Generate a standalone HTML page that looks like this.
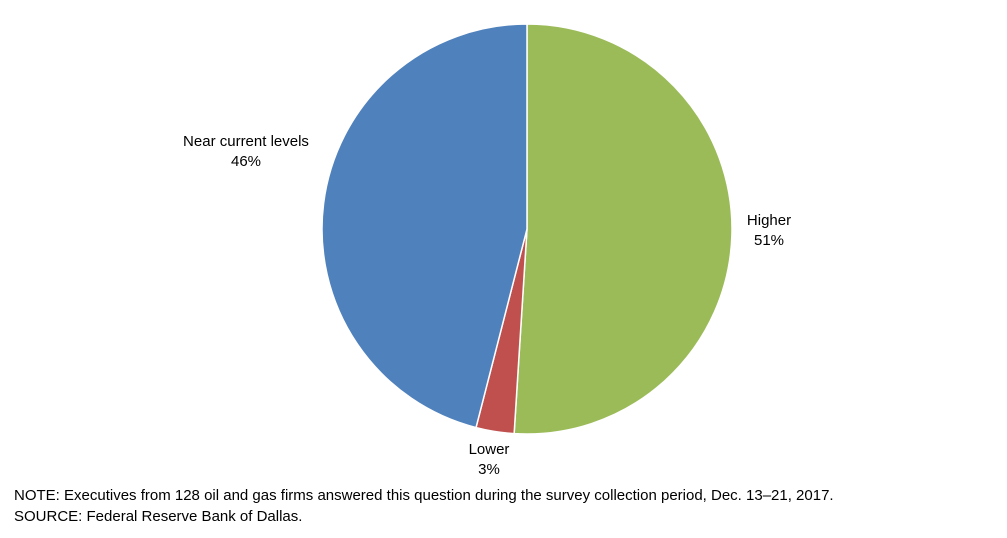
<!DOCTYPE html>
<html>
<head>
<meta charset="utf-8">
<style>
  body { margin: 0; background: #fff; }
  svg { display: block; font-family: "Liberation Sans", Arial, sans-serif; }
</style>
</head>
<body>
<svg id="chart" width="1007" height="538" viewBox="0 0 1007 538">
  <g id="slices"></g>
  <g id="labels"></g>
  <text x="14" y="500" font-size="15" fill="#000">NOTE: Executives from 128 oil and gas firms answered this question during the survey collection period, Dec. 13–21, 2017.</text>
  <text x="14" y="521" font-size="15" fill="#000">SOURCE: Federal Reserve Bank of Dallas.</text>
</svg>
<script>
const categories = ["Higher", "Lower", "Near current levels"];
const values = [51, 3, 46];
const colors = ["#9BBB59", "#C0504D", "#4F81BD"];
const labelPos = [[769, 225], [489, 454], [246, 146]];

const cx = 527, cy = 229, r = 205;
const NS = "http://www.w3.org/2000/svg";
const slicesG = document.getElementById("slices");
const labelsG = document.getElementById("labels");
const total = values.reduce((a, b) => a + b, 0);
function pt(frac) {
  const a = frac * 2 * Math.PI;
  return [cx + r * Math.sin(a), cy - r * Math.cos(a)];
}
let cum = 0;
values.forEach((v, i) => {
  const f0 = cum / total, f1 = (cum + v) / total;
  cum += v;
  const [x0, y0] = pt(f0), [x1, y1] = pt(f1);
  const large = (f1 - f0) > 0.5 ? 1 : 0;
  const p = document.createElementNS(NS, "path");
  p.setAttribute("d", `M${cx},${cy} L${x0},${y0} A${r},${r} 0 ${large} 1 ${x1},${y1} Z`);
  p.setAttribute("fill", colors[i]);
  p.setAttribute("stroke", "#fff");
  p.setAttribute("stroke-width", "1.5");
  
  
  slicesG.appendChild(p);

  const [lx, ly] = labelPos[i];
  const t = document.createElementNS(NS, "text");
  t.setAttribute("x", lx);
  t.setAttribute("y", ly);
  t.setAttribute("text-anchor", "middle");
  t.setAttribute("font-size", "15");
  t.textContent = categories[i];
  
  
  labelsG.appendChild(t);
  const t2 = document.createElementNS(NS, "text");
  t2.setAttribute("x", lx);
  t2.setAttribute("y", ly + 20);
  t2.setAttribute("text-anchor", "middle");
  t2.setAttribute("font-size", "15");
  t2.textContent = v + "%";
  
  
  labelsG.appendChild(t2);
});
</script>
</body>
</html>
